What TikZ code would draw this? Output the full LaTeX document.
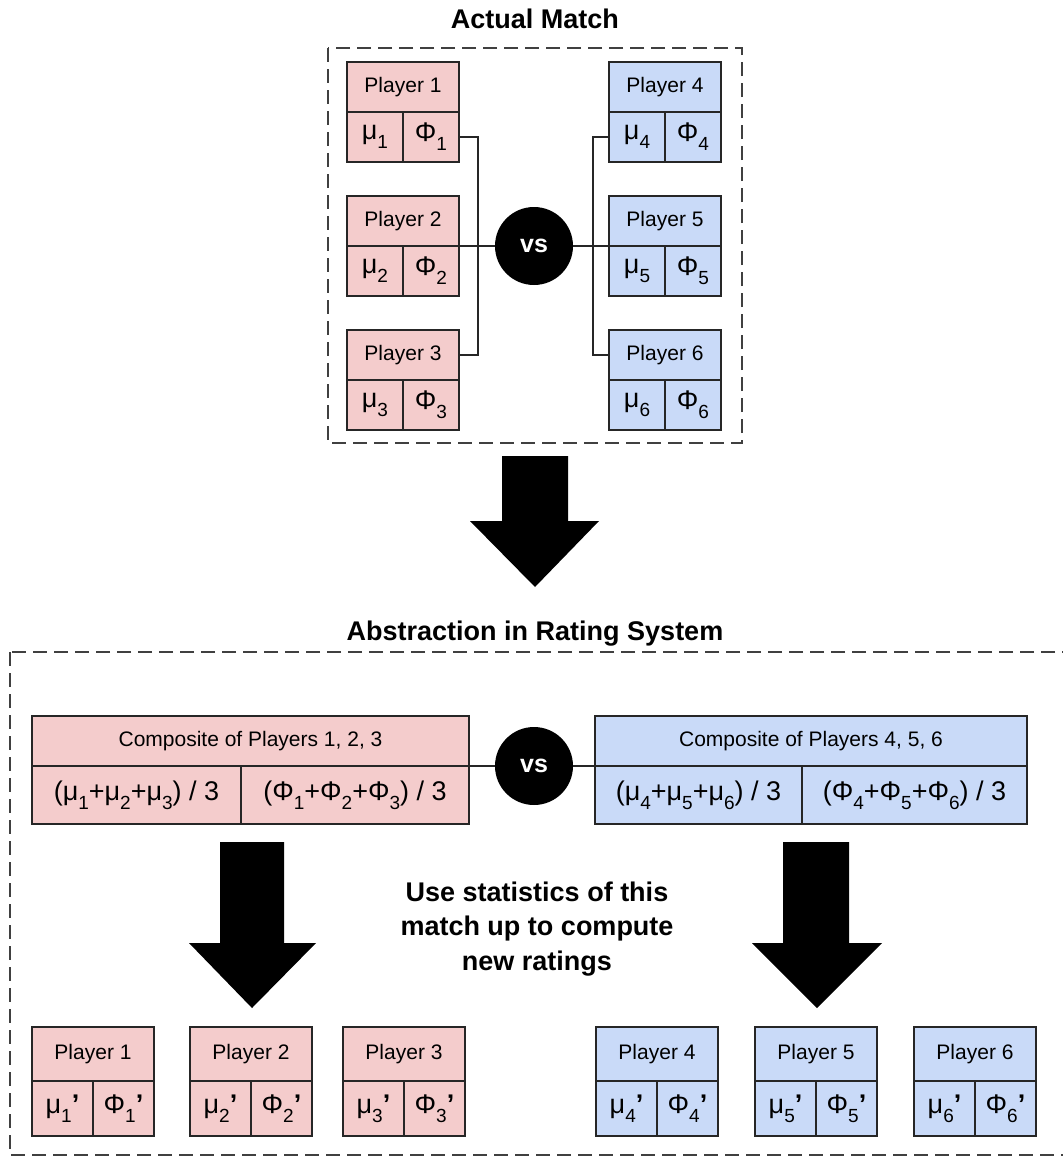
\documentclass[tikz,border=0pt]{standalone}
\usepackage{fontspec}
\setmainfont{Liberation Sans}
\usetikzlibrary{positioning}
\definecolor{redfill}{HTML}{F4CCCC}
\definecolor{bluefill}{HTML}{C9DAF8}
\newcommand{\lowidx}[1]{\raisebox{-9pt}{\fontsize{19}{19}\selectfont #1}}
\newcommand{\newidx}[1]{\lowidx{#1}\textbf{'}}
\tikzset{
	cell/.style={draw=black!85, line width=1.3pt, inner sep=0pt, outer sep=0pt, font=\fontsize{21}{21}\selectfont},
	redcell/.style={cell, fill=redfill},
	bluecell/.style={cell, fill=bluefill},
	valtext/.style={font=\fontsize{27}{27}\selectfont},
	oldname/.style={minimum width=112, minimum height=50},
	oldval/.style={valtext, minimum width=56, minimum height=50},
	newname/.style={minimum width=122, minimum height=54},
	newval/.style={valtext, minimum width=61, minimum height=55},
	vsdot/.style={circle, fill=black, minimum size=78, inner sep=0pt, text=white, font=\bfseries\fontsize{25}{25}\selectfont},
	framebox/.style={draw=black!75, line width=1.5pt, dash pattern=on 14pt off 7pt},
	heading/.style={font=\bfseries\fontsize{27}{34.5}\selectfont},
	wire/.style={draw=black!85, line width=1.5pt}
}
\begin{document}
\begin{tikzpicture}[x=1pt,y=-1pt]
	\useasboundingbox (0,0) rectangle (1063,1157);
	% actual match
	\node[heading] (toptitle) at (535,19) {Actual Match};
	\draw[framebox] (328,48) rectangle (742,443);
	\node[redcell, oldname] (p1) at (403,87) {Player 1};
	\node[redcell, oldval, below right=0pt of p1.south west] (p1m) {μ\lowidx{1}};
	\node[redcell, oldval, below left=0pt of p1.south east] (p1f) {Φ\lowidx{1}};
	\node[redcell, oldname] (p2) at (403,221) {Player 2};
	\node[redcell, oldval, below right=0pt of p2.south west] (p2m) {μ\lowidx{2}};
	\node[redcell, oldval, below left=0pt of p2.south east] (p2f) {Φ\lowidx{2}};
	\node[redcell, oldname] (p3) at (403,355) {Player 3};
	\node[redcell, oldval, below right=0pt of p3.south west] (p3m) {μ\lowidx{3}};
	\node[redcell, oldval, below left=0pt of p3.south east] (p3f) {Φ\lowidx{3}};
	\node[bluecell, oldname] (p4) at (665,87) {Player 4};
	\node[bluecell, oldval, below right=0pt of p4.south west] (p4m) {μ\lowidx{4}};
	\node[bluecell, oldval, below left=0pt of p4.south east] (p4f) {Φ\lowidx{4}};
	\node[bluecell, oldname] (p5) at (665,221) {Player 5};
	\node[bluecell, oldval, below right=0pt of p5.south west] (p5m) {μ\lowidx{5}};
	\node[bluecell, oldval, below left=0pt of p5.south east] (p5f) {Φ\lowidx{5}};
	\node[bluecell, oldname] (p6) at (665,355) {Player 6};
	\node[bluecell, oldval, below right=0pt of p6.south west] (p6m) {μ\lowidx{6}};
	\node[bluecell, oldval, below left=0pt of p6.south east] (p6f) {Φ\lowidx{6}};
	\node[vsdot] (vs1) at (534,246) {vs};
	\coordinate (lbus) at (478,246);
	\coordinate (rbus) at (593,246);
	\draw[wire] (p1f.east) -| (lbus) |- (p3.east);
	\draw[wire] (p2.south east) -- (vs1);
	\draw[wire] (p4m.west) -| (rbus) |- (p6.west);
	\draw[wire] (vs1) -- (p5.south west);
	\fill (502,456) -- (568,456) -- (568,521) -- (599,521) -- (535,587) -- (470,521) -- (502,521) -- cycle;
	% rating system
	\node[heading] (bottitle) at (535,634) {Abstraction in Rating System};
	\draw[framebox] (10,652) rectangle (1090,1155);
	\node[redcell, minimum width=437, minimum height=50] (cl) at (250.5,741) {Composite of Players 1, 2, 3};
	\node[redcell, valtext, minimum width=209, minimum height=58, below right=0pt of cl.south west] (clm) {(μ\lowidx{1}+μ\lowidx{2}+μ\lowidx{3}) / 3};
	\node[redcell, valtext, minimum width=228, minimum height=58, below left=0pt of cl.south east] (clf) {(Φ\lowidx{1}+Φ\lowidx{2}+Φ\lowidx{3}) / 3};
	\node[bluecell, minimum width=432, minimum height=50] (cr) at (811,741) {Composite of Players 4, 5, 6};
	\node[bluecell, valtext, minimum width=207, minimum height=58, below right=0pt of cr.south west] (crm) {(μ\lowidx{4}+μ\lowidx{5}+μ\lowidx{6}) / 3};
	\node[bluecell, valtext, minimum width=225, minimum height=58, below left=0pt of cr.south east] (crf) {(Φ\lowidx{4}+Φ\lowidx{5}+Φ\lowidx{6}) / 3};
	\node[vsdot] (vs2) at (534,766) {vs};
	\draw[wire] (cl.south east) -- (vs2);
	\draw[wire] (vs2) -- (cr.south west);
	\fill (220,842) -- (284,842) -- (284,943) -- (316,943) -- (252,1008) -- (189,943) -- (220,943) -- cycle;
	\fill (783,842) -- (849,842) -- (849,943) -- (882,943) -- (817,1008) -- (752,943) -- (783,943) -- cycle;
	\node[heading, align=center] (note) at (537,929) {Use statistics of this\\match up to compute\\new ratings};
	\node[redcell, newname] (q1) at (93,1054) {Player 1};
	\node[redcell, newval, below right=0pt of q1.south west] (q1m) {μ\newidx{1}};
	\node[redcell, newval, below left=0pt of q1.south east] (q1f) {Φ\newidx{1}};
	\node[redcell, newname] (q2) at (251,1054) {Player 2};
	\node[redcell, newval, below right=0pt of q2.south west] (q2m) {μ\newidx{2}};
	\node[redcell, newval, below left=0pt of q2.south east] (q2f) {Φ\newidx{2}};
	\node[redcell, newname] (q3) at (404,1054) {Player 3};
	\node[redcell, newval, below right=0pt of q3.south west] (q3m) {μ\newidx{3}};
	\node[redcell, newval, below left=0pt of q3.south east] (q3f) {Φ\newidx{3}};
	\node[bluecell, newname] (q4) at (657,1054) {Player 4};
	\node[bluecell, newval, below right=0pt of q4.south west] (q4m) {μ\newidx{4}};
	\node[bluecell, newval, below left=0pt of q4.south east] (q4f) {Φ\newidx{4}};
	\node[bluecell, newname] (q5) at (816,1054) {Player 5};
	\node[bluecell, newval, below right=0pt of q5.south west] (q5m) {μ\newidx{5}};
	\node[bluecell, newval, below left=0pt of q5.south east] (q5f) {Φ\newidx{5}};
	\node[bluecell, newname] (q6) at (975,1054) {Player 6};
	\node[bluecell, newval, below right=0pt of q6.south west] (q6m) {μ\newidx{6}};
	\node[bluecell, newval, below left=0pt of q6.south east] (q6f) {Φ\newidx{6}};
\end{tikzpicture}
\end{document}
